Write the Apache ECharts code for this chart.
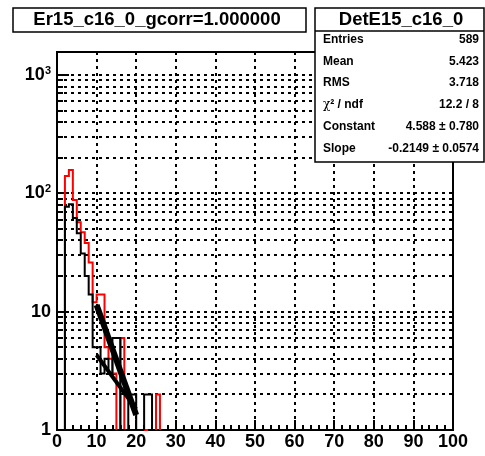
<!DOCTYPE html>
<html><head><meta charset="utf-8">
<script src="https://cdn.jsdelivr.net/npm/echarts@6/dist/echarts.min.js"></script>
<style>html,body{margin:0;padding:0;background:#fff}#c{width:485px;height:456px}</style>
</head><body><div id="c"></div>
<script>
// ---- data ----
const binLowEdges = [0,1,2,3,4,5,6,7,8,9,10,11,12,13,14,15,16,17,18,19,20,21,22,23,24,25];
const binWidth = 1;
const blackCounts = [0,0,77,81,62,46,31,20,14,5,5,3,4,3,6,6,1,1,2,2,0,0,2,2,0,0];
const redCounts   = [0,0,140,158,88,57,47,38,26,12,14,14,5,4,3,0,6,0,0,0,0,0,1,0,0,2];
const fitMainX = [10, 20];
const fitMainY = [11.4, 1.34];
const fitAltX = [10, 20];
const fitAltY = [4.3, 1.5];
const xTickLabels = [0,10,20,30,40,50,60,70,80,90,100];
const yTickValues = [1,2,3,4,5,6,7,8,9,10,20,30,40,50,60,70,80,90,100,200,300,400,500,600,700,800,900,1000];
const yLabelPowers = [1,10,100,1000];
const yMin = 1, yMax = 1567;
const titleText = 'Er15_c16_0_gcorr=1.000000';
const statsTitle = 'DetE15_c16_0';
const statsLabels = ['Entries','Mean','RMS','{c|χ}{b|² / ndf}','Constant','Slope'];
const statsValues = ['589','5.423','3.718','12.2 / 8','4.588 ± 0.780','-0.2149 ± 0.0574'];

const FF = '"Liberation Sans", Arial, Helvetica, sans-serif';

function pieces(counts){
  const out=[]; let cur=null;
  for(let i=0;i<counts.length;i++){
    const c=counts[i], x0=binLowEdges[i], x1=x0+binWidth;
    if(c>0){
      const y=Math.max(c,yMin);
      if(!cur) cur=[[x0,yMin]];
      cur.push([x0,y],[x1,y]);
    } else if(cur){
      cur.push([cur[cur.length-1][0],yMin]); out.push(cur); cur=null;
    }
  }
  if(cur){cur.push([cur[cur.length-1][0],yMin]); out.push(cur);}
  return out;
}
function histSeries(counts,color,z){
  return pieces(counts).map(p=>({type:'line',data:p,symbol:'none',showSymbol:false,animation:false,silent:true,z:z,
    lineStyle:{color:color,width:2,join:'miter'}}));
}
function isPow(v){const l=Math.log10(v);return Math.abs(l-Math.round(l))<1e-9;}

const series=[];
series.push({type:'custom',silent:true,animation:false,z:1,clip:false,
  data:yTickValues.map(v=>[0,v]),
  renderItem:function(params,api){
    const v=api.value(1);
    const p=api.coord([0,v]), q=api.coord([100,v]);
    const y=Math.round(p[1]);
    const ch=[{type:'line',shape:{x1:p[0],y1:y,x2:p[0]+(isPow(v)?12:6),y2:y},style:{stroke:'#000',lineWidth:2}}];
    if(v>yMin) ch.push({type:'line',shape:{x1:p[0],y1:y,x2:q[0],y2:y},style:{stroke:'#000',lineWidth:2,lineDash:[3,4]}});
    return {type:'group',children:ch};
  }});
series.push(...histSeries(redCounts,'#ff0000',3));
series.push(...histSeries(blackCounts,'#000000',4));
series.push({type:'line',data:fitMainX.map((x,i)=>[x,fitMainY[i]]),symbol:'none',animation:false,silent:true,z:5,lineStyle:{color:'#000',width:6}});
series.push({type:'line',data:fitAltX.map((x,i)=>[x,fitAltY[i]]),symbol:'none',animation:false,silent:true,z:5,lineStyle:{color:'#000',width:4}});

const graphics=[
  {type:'rect',shape:{x:13,y:8,width:293,height:24},style:{fill:'#fff',stroke:'#000',lineWidth:1.5}},
  {type:'text',x:157,y:20,style:{text:titleText,font:'bold 18.5px '+FF,fill:'#000',textAlign:'center',textVerticalAlign:'middle'}},
  {type:'rect',shape:{x:315,y:8,width:169,height:154},style:{fill:'#fff',stroke:'#000',lineWidth:1.5}},
  {type:'line',shape:{x1:315,y1:31,x2:484,y2:31},style:{stroke:'#000',lineWidth:1.5}},
  {type:'text',x:401,y:19.5,style:{text:statsTitle,font:'bold 18.5px '+FF,fill:'#000',textAlign:'center',textVerticalAlign:'middle'}}
];
statsLabels.forEach((t,i)=>{
  const y=39.5+i*21.8;
  graphics.push({type:'text',x:323,y:y,style:{text:t,font:'bold 12px '+FF,fill:'#000',textAlign:'left',textVerticalAlign:'middle',
    rich:{c:{font:'12px "DejaVu Serif", serif',fill:'#000'},b:{font:'bold 12px '+FF,fill:'#000'}}}});
  graphics.push({type:'text',x:479,y:y,style:{text:statsValues[i],font:'bold 12px '+FF,fill:'#000',textAlign:'right',textVerticalAlign:'middle'}});
});

const chart=echarts.init(document.getElementById('c'),null,{renderer:'canvas'});
chart.setOption({
  animation:false,
  backgroundColor:'#fff',
  grid:{left:57,top:52,width:396,height:378,show:true,borderColor:'#000',borderWidth:2,backgroundColor:'rgba(0,0,0,0)'},
  xAxis:{type:'value',min:xTickLabels[0],max:xTickLabels[xTickLabels.length-1],interval:10,
    axisLine:{show:true,onZero:false,lineStyle:{color:'#000',width:2}},
    axisTick:{show:true,inside:true,length:10,lineStyle:{color:'#000',width:2}},
    minorTick:{show:true,splitNumber:5,length:5,lineStyle:{color:'#000',width:2}},
    splitLine:{show:true,lineStyle:{color:'#000',width:2,type:[3,4]}},
    axisLabel:{color:'#000',fontSize:18,fontWeight:'bold',fontFamily:FF,margin:3,
      formatter:v=>xTickLabels.includes(v)?String(v):''}},
  yAxis:{type:'log',logBase:10,min:yMin,max:yMax,
    axisLine:{show:true,lineStyle:{color:'#000',width:2}},
    axisTick:{show:false},splitLine:{show:false},minorTick:{show:false},
    axisLabel:{margin:6,color:'#000',
      formatter:function(v){
        const l=Math.round(Math.log10(v));
        if(!isPow(v)||!yLabelPowers.includes(Math.pow(10,l))) return '';
        if(l<=1) return '{n|'+Math.pow(10,l)+'}';
        return '{n|10}{s|'+l+'}';
      },
      rich:{n:{fontSize:18,fontWeight:'bold',fontFamily:FF,color:'#000',lineHeight:20},
            s:{fontSize:11,fontWeight:'bold',fontFamily:FF,color:'#000',verticalAlign:'top',lineHeight:20,padding:[0,0,8,0]}}}},
  series:series,
  graphic:{elements:graphics.map(g=>Object.assign({z:100,silent:true},g))}
});
</script></body></html>
